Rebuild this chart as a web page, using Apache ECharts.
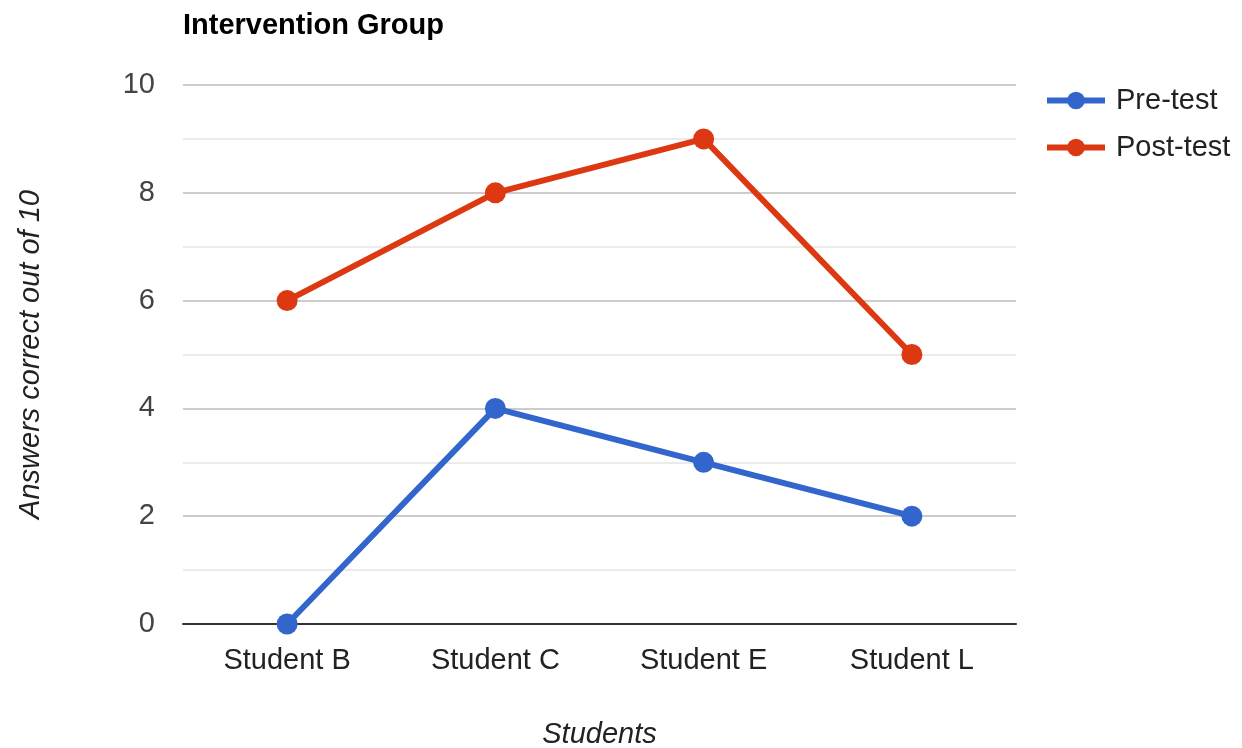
<!DOCTYPE html>
<html lang="en">
<head>
  <meta charset="UTF-8">
  <title>Intervention Group</title>
  <style>
    html, body { margin: 0; padding: 0; background: #fff; }
  </style>
</head>
<body>
<div id="main" style="width: 1242px;height:748px;"></div>
<script src="https://cdn.jsdelivr.net/npm/echarts@6/dist/echarts.min.js"></script>
<script type="text/javascript">
  const students = ['Student B', 'Student C', 'Student E', 'Student L']
  const preTest = [0, 4, 3, 2]
  const postTest = [6, 8, 9, 5]

  const font = '"Liberation Sans", Arial, sans-serif'
  const Chart = echarts.init(document.getElementById('main'))

  const option = {
    textStyle: { fontFamily: font },
    title: {
      text: 'Intervention Group',
      left: 178,
      top: 6,
      textStyle: { fontFamily: font, fontSize: 29, fontWeight: 'bold', color: '#000' }
    },
    legend: {
      orient: 'vertical',
      left: 1039,
      top: 81,
      itemWidth: 58,
      itemHeight: 22,
      itemGap: 18,
      lineStyle: { width: 6 },
      textStyle: { fontFamily: font, fontSize: 29, color: '#222', padding: [0, 0, 0, 6] },
      data: ['Pre-test', 'Post-test']
    },
    grid: { left: 183, right: 226, top: 85, bottom: 124, outerBoundsMode: 'none', containLabel: false },
    xAxis: {
      type: 'category',
      data: students,
      name: 'Students',
      nameLocation: 'middle',
      nameGap: 96,
      nameTextStyle: { fontFamily: font, fontSize: 29, fontStyle: 'italic', color: '#222' },
      axisLine: { lineStyle: { color: '#333', width: 2 } },
      axisTick: { show: false },
      axisLabel: { fontFamily: font, fontSize: 29, color: '#222', margin: 22 }
    },
    yAxis: {
      type: 'value',
      min: 0,
      max: 10,
      interval: 2,
      name: 'Answers correct out of 10',
      nameLocation: 'middle',
      nameGap: 138,
      nameTextStyle: { fontFamily: font, fontSize: 29, fontStyle: 'italic', color: '#222' },
      axisLine: { show: false },
      axisTick: { show: false },
      axisLabel: { fontFamily: font, fontSize: 29, color: '#444', margin: 28 },
      splitLine: { lineStyle: { color: '#ccc', width: 2 } },
      minorTick: { show: false, splitNumber: 2 },
      minorSplitLine: { show: true, lineStyle: { color: '#ebebeb', width: 2 } }
    },
    series: [{
      name: 'Pre-test',
      type: 'line',
      data: preTest,
      symbol: 'circle',
      symbolSize: 21,
      color: '#3366cc',
      lineStyle: { width: 6 },
      z: 3
    }, {
      name: 'Post-test',
      type: 'line',
      data: postTest,
      symbol: 'circle',
      symbolSize: 21,
      color: '#dc3912',
      lineStyle: { width: 6 },
      z: 3
    }]
  }

  Chart.setOption(option)
</script>
</body>
</html>
